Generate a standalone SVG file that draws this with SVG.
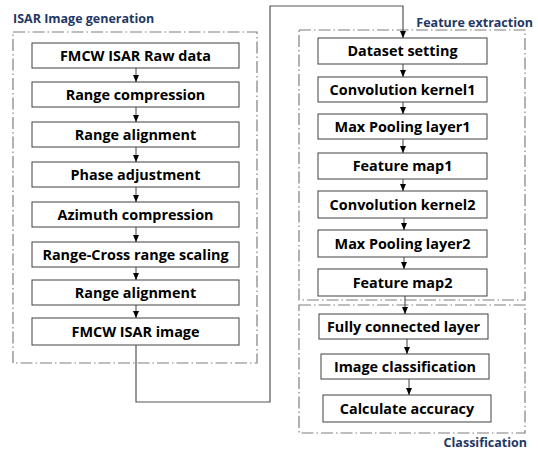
<svg xmlns="http://www.w3.org/2000/svg" width="538" height="453" viewBox="0 0 538 453">
<style>
.grp{fill:none;stroke:#7f7f7f;stroke-width:1.2;stroke-dasharray:12 3 1.5 3}
.box{fill:#fff;stroke:#404040;stroke-width:1}
.t{font-family:"Open Sans","Liberation Sans",Arial,sans-serif;font-weight:bold;font-size:14.4px;fill:#000;text-anchor:middle}
.title{font-family:"Open Sans","Liberation Sans",Arial,sans-serif;font-weight:bold;font-size:12.5px;fill:#1f3864}
.ln{fill:none;stroke:#404040;stroke-width:1}
.conn{fill:none;stroke:#555;stroke-width:1.2}
</style>
<defs>
<marker id="ah" markerWidth="7" markerHeight="6" refX="7" refY="3" orient="auto" markerUnits="userSpaceOnUse">
<path d="M0,0 L7,3 L0,6 Z" fill="#000"/>
</marker>
</defs>
<g id="group-isar">
<rect class="grp" x="13" y="32" width="244" height="331"/>
<text class="title" x="13" y="23">ISAR Image generation</text>
</g>
<g id="group-feature">
<rect class="grp" x="299" y="30" width="226" height="270"/>
<text class="title" x="533" y="27" text-anchor="end">Feature extraction</text>
</g>
<g id="group-class">
<rect class="grp" x="299" y="305" width="226" height="128"/>
<text class="title" x="527" y="447" text-anchor="end">Classification</text>
</g>
<g id="n1"><rect class="box" x="32" y="43" width="207" height="25"/><text class="t" x="135.5" y="60.5">FMCW ISAR Raw data</text></g>
<g id="n2"><rect class="box" x="32" y="82" width="207" height="25"/><text class="t" x="135.5" y="99.5">Range compression</text></g>
<g id="n3"><rect class="box" x="32" y="122" width="207" height="25"/><text class="t" x="135.5" y="139.5">Range alignment</text></g>
<g id="n4"><rect class="box" x="32" y="162" width="207" height="25"/><text class="t" x="135.5" y="179.5">Phase adjustment</text></g>
<g id="n5"><rect class="box" x="32" y="202" width="207" height="25"/><text class="t" x="135.5" y="219.5">Azimuth compression</text></g>
<g id="n6"><rect class="box" x="32" y="242" width="207" height="25"/><text class="t" x="135.5" y="259.5">Range-Cross range scaling</text></g>
<g id="n7"><rect class="box" x="32" y="280" width="207" height="25"/><text class="t" x="135.5" y="297.5">Range alignment</text></g>
<g id="n8"><rect class="box" x="32" y="318" width="207" height="27"/><text class="t" x="135.5" y="336.5">FMCW ISAR image</text></g>
<g id="f1"><rect class="box" x="318" y="38" width="169" height="26"/><text class="t" x="402.5" y="56">Dataset setting</text></g>
<g id="f2"><rect class="box" x="318" y="77" width="169" height="25"/><text class="t" x="402.5" y="94.5">Convolution kernel1</text></g>
<g id="f3"><rect class="box" x="318" y="114" width="169" height="25"/><text class="t" x="402.5" y="131.5">Max Pooling layer1</text></g>
<g id="f4"><rect class="box" x="318" y="153" width="169" height="26"/><text class="t" x="402.5" y="171">Feature map1</text></g>
<g id="f5"><rect class="box" x="318" y="191" width="169" height="27"/><text class="t" x="402.5" y="209.5">Convolution kernel2</text></g>
<g id="f6"><rect class="box" x="318" y="230" width="169" height="27"/><text class="t" x="402.5" y="248.5">Max Pooling layer2</text></g>
<g id="f7"><rect class="box" x="318" y="269" width="169" height="27"/><text class="t" x="402.5" y="287.5">Feature map2</text></g>
<g id="c1"><rect class="box" x="319" y="314" width="169" height="25"/><text class="t" x="403.5" y="331.5">Fully connected layer</text></g>
<g id="c2"><rect class="box" x="321" y="354" width="168" height="25"/><text class="t" x="405" y="371.5">Image classification</text></g>
<g id="c3"><rect class="box" x="323" y="395" width="168" height="27"/><text class="t" x="407" y="413.5">Calculate accuracy</text></g>
<g id="connectors">
<path class="ln" d="M136,68 V82" marker-end="url(#ah)"/>
<path class="ln" d="M136,107 V122" marker-end="url(#ah)"/>
<path class="ln" d="M136,147 V162" marker-end="url(#ah)"/>
<path class="ln" d="M136,187 V202" marker-end="url(#ah)"/>
<path class="ln" d="M136,227 V242" marker-end="url(#ah)"/>
<path class="ln" d="M136,267 V280" marker-end="url(#ah)"/>
<path class="ln" d="M136,305 V318" marker-end="url(#ah)"/>
<path class="conn" d="M136,345 V402 H270 V6 H403 V38" marker-end="url(#ah)"/>
<path class="ln" d="M403,64 V77" marker-end="url(#ah)"/>
<path class="ln" d="M403,102 V114" marker-end="url(#ah)"/>
<path class="ln" d="M403,139 V153" marker-end="url(#ah)"/>
<path class="ln" d="M403,179 V191" marker-end="url(#ah)"/>
<path class="ln" d="M404,218 V230" marker-end="url(#ah)"/>
<path class="ln" d="M404,257 V269" marker-end="url(#ah)"/>
<path class="ln" d="M405,296 V314" marker-end="url(#ah)"/>
<path class="ln" d="M407,339 V354" marker-end="url(#ah)"/>
<path class="ln" d="M409,379 V395" marker-end="url(#ah)"/>
</g>
</svg>
